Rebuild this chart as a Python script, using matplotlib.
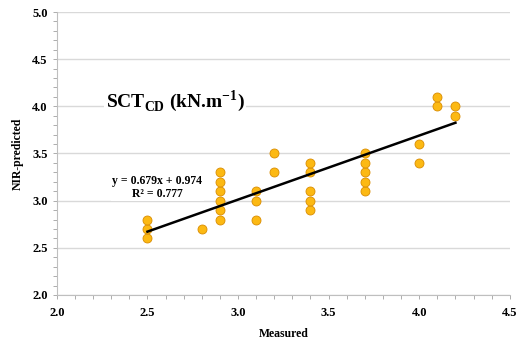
import matplotlib
matplotlib.use("Agg")
import matplotlib.pyplot as plt
import numpy as np
from matplotlib.ticker import MultipleLocator

# measured vs NIR-predicted values
measured = [2.5, 2.5, 2.5, 2.8,
            2.9, 2.9, 2.9, 2.9, 2.9, 2.9,
            3.1, 3.1, 3.1, 3.2, 3.2,
            3.4, 3.4, 3.4, 3.4, 3.4,
            3.7, 3.7, 3.7, 3.7, 3.7,
            4.0, 4.0, 4.1, 4.1, 4.2, 4.2]
predicted = [2.6, 2.7, 2.8, 2.7,
             2.8, 2.9, 3.0, 3.1, 3.2, 3.3,
             2.8, 3.0, 3.1, 3.3, 3.5,
             2.9, 3.0, 3.1, 3.3, 3.4,
             3.1, 3.2, 3.3, 3.4, 3.5,
             3.4, 3.6, 4.0, 4.1, 3.9, 4.0]
slope, intercept, r2 = 0.679, 0.974, 0.777

plt.rcParams['font.family'] = ['Liberation Serif', 'DejaVu Serif']
plt.rcParams['font.weight'] = 'bold'

fig = plt.figure(figsize=(5.17, 3.43), dpi=100)
ax = fig.add_axes([0.110, 0.140, 0.876, 0.825])

grid_c = '#d9d9d9'
ax.set_xlim(2.0, 4.5)
ax.set_ylim(2.0, 5.0)
ax.xaxis.set_major_locator(MultipleLocator(0.5))
ax.yaxis.set_major_locator(MultipleLocator(0.5))
ax.xaxis.set_minor_locator(MultipleLocator(0.1))
ax.yaxis.set_minor_locator(MultipleLocator(0.1))
ax.yaxis.grid(True, which='major', color=grid_c, lw=1.0)
ax.set_axisbelow(True)
for s in ['top', 'right']:
    ax.spines[s].set_visible(False)
for s in ['left', 'bottom']:
    ax.spines[s].set_color('#bfbfbf')
    ax.spines[s].set_linewidth(0.8)
ax.tick_params(which='both', length=3, width=0.6, color='#a0a0a0', labelsize=9)
ax.tick_params(axis='x', pad=6)
ax.xaxis.set_major_formatter(matplotlib.ticker.FormatStrFormatter('%.1f'))
ax.yaxis.set_major_formatter(matplotlib.ticker.FormatStrFormatter('%.1f'))
for lbl in ax.get_xticklabels() + ax.get_yticklabels():
    lbl.set_fontweight('bold')

ax.scatter(measured, predicted, s=42, color='#fcb913', edgecolor='#d98c00',
           linewidth=0.6, zorder=3)

xf = np.array([min(measured), max(measured)])
ax.plot(xf, slope * xf + intercept, color='black', lw=1.8, zorder=4)

ax.text(2.555, 3.14, f"y = {slope}x + {intercept}\nR² = {r2}", ha='center', va='center',
        fontsize=8.5, fontweight='bold', linespacing=1.1,
        bbox=dict(facecolor='white', edgecolor='none', pad=1), zorder=5)

ax.text(2.27, 4.06, r"SCT$_{\mathregular{CD}}$ (kN.m$^{\mathregular{-1}}$)", ha='left', va='center',
        fontsize=14, fontweight='bold',
        bbox=dict(facecolor='white', edgecolor='none', pad=1), zorder=5)

ax.set_xlabel("Measured", fontsize=8.5, fontweight='bold', labelpad=6)
ax.set_ylabel("NIR-predicted", fontsize=8.5, fontweight='bold', labelpad=6)

fig.savefig("out.png", dpi=100)
